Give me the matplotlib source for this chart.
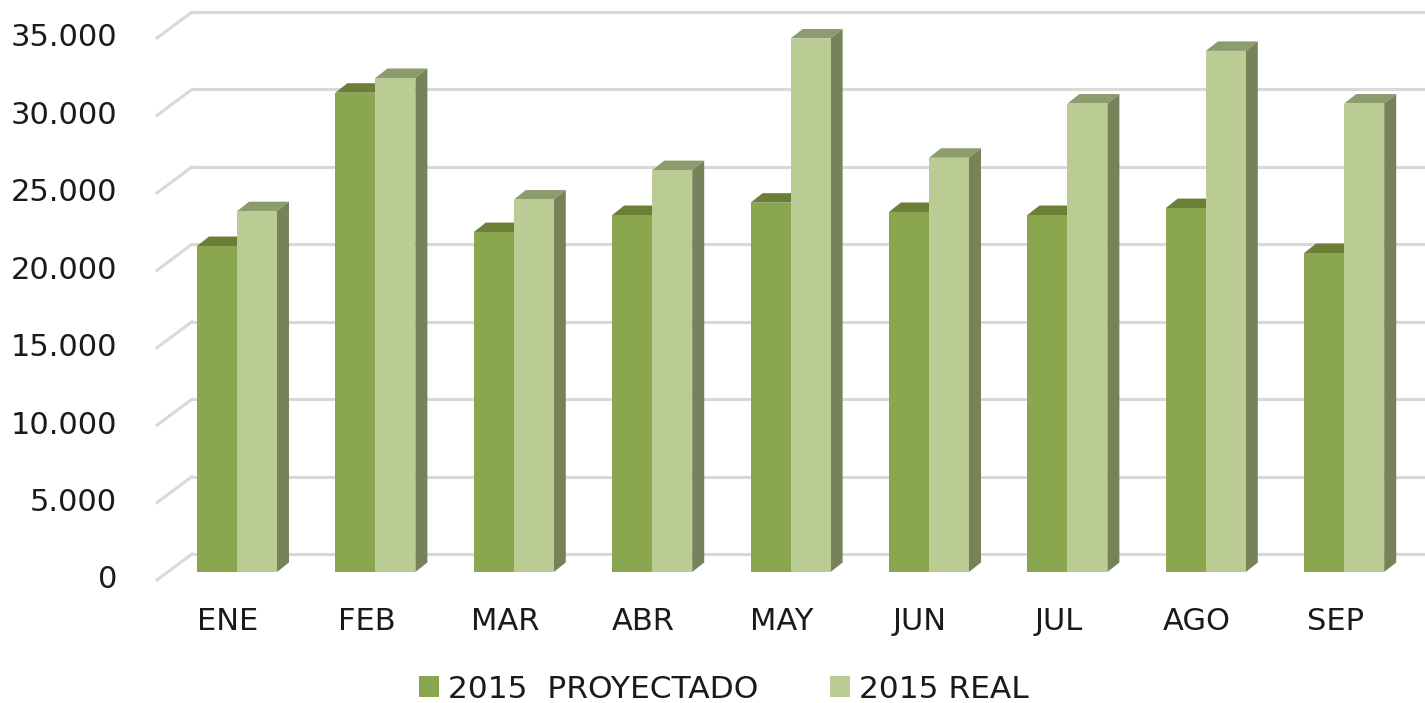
import matplotlib
matplotlib.use("Agg")
import matplotlib.pyplot as plt
from matplotlib.patches import Polygon, Patch

months = ["ENE", "FEB", "MAR", "ABR", "MAY", "JUN", "JUL", "AGO", "SEP"]
proyectado = [21050, 30950, 21950, 23050, 23850, 23250, 23050, 23500, 20600]
real = [23300, 31900, 24050, 25950, 34450, 26750, 30250, 33650, 30250]
yticks = [0, 5000, 10000, 15000, 20000, 25000, 30000, 35000]
ytick_labels = ["0", "5.000", "10.000", "15.000", "20.000", "25.000", "30.000", "35.000"]
series_names = ["2015  PROYECTADO", "2015 REAL"]

W, H = 1425, 703
fig = plt.figure(figsize=(W / 100, H / 100), dpi=100)
ax = fig.add_axes([0, 0, 1, 1])
ax.set_axis_off()

# pixel geometry of the pseudo-3D frame
x0_px, step_px = 237.0, 138.4       # centre of first group, spacing
y0_px, ppu = 572.0, 77.43 / 5000.0  # baseline of bar fronts, px per unit
ax.set_xlim((0 - x0_px) / step_px, (W - x0_px) / step_px)
ax.set_ylim((y0_px - H) / ppu, y0_px / ppu)

def dx(px):
    return px / step_px

def dy(px):
    return px / ppu

def xpx(px):
    return (px - x0_px) / step_px

bw = 40.0 / step_px
d_x, d_y = dx(12), dy(9.5)
grid_c = "#D9D9D9"
txt_c = "#1a1a1a"

# gridlines on back wall and left wall, tick labels at the front edge
for v, lab in zip(yticks, ytick_labels):
    ax.plot([xpx(192), xpx(W)], [v + dy(18), v + dy(18)], color=grid_c, lw=2.2, zorder=1,
            solid_capstyle="butt")
    ax.plot([xpx(157), xpx(192)], [v - dy(8), v + dy(18)], color=grid_c, lw=2.2, zorder=1)
    ax.text(xpx(117), v - dy(8), lab, ha="right", va="center",
            fontsize=22, color=txt_c, family="DejaVu Sans")

c_dark, c_dark_top = "#8AA64E", "#6B7F36"
c_light, c_light_top, c_side = "#BACB94", "#8C9C6C", "#76825A"

for i, (p, r) in enumerate(zip(proyectado, real)):
    # dark (proyectado)
    xl, xr = i - bw, i
    ax.bar(xl, p, width=bw, align="edge", color=c_dark, zorder=3, lw=0)
    ax.add_patch(Polygon([(xl, p), (xl + d_x, p + d_y), (xr + d_x, p + d_y), (xr, p)],
                         closed=True, fc=c_dark_top, ec="none", zorder=2.5))
    # light (real)
    xl2, xr2 = i, i + bw
    ax.bar(xl2, r, width=bw, align="edge", color=c_light, zorder=4, lw=0)
    ax.add_patch(Polygon([(xl2, r), (xl2 + d_x, r + d_y), (xr2 + d_x, r + d_y), (xr2, r)],
                         closed=True, fc=c_light_top, ec="none", zorder=3.5))
    ax.add_patch(Polygon([(xr2, 0), (xr2 + d_x, d_y), (xr2 + d_x, r + d_y), (xr2, r)],
                         closed=True, fc=c_side, ec="none", zorder=3.5))
    ax.text(i - dx(9), (y0_px - 622) / ppu, months[i], ha="center", va="center",
            fontsize=22, color=txt_c, family="DejaVu Sans")

handles = [Patch(fc=c_dark, ec="none"), Patch(fc=c_light, ec="none")]
leg = fig.legend(handles, series_names, loc="center", bbox_to_anchor=(0.508, 1 - 689 / H),
                 ncol=2, frameon=False, handlelength=0.62, handleheight=0.62,
                 handletextpad=0.3, columnspacing=2.3,
                 prop={"family": "DejaVu Sans", "size": 22.5})
for t in leg.get_texts():
    t.set_color(txt_c)

fig.savefig("out.png", dpi=100)
